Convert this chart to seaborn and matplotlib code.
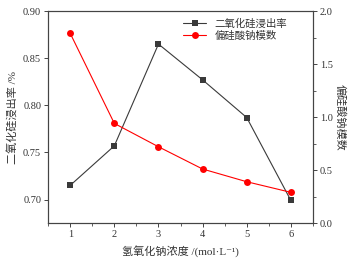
import matplotlib
matplotlib.use("Agg")
import matplotlib.pyplot as plt
import seaborn as sns
import pandas as pd
from matplotlib.ticker import MultipleLocator

naoh_conc = [1, 2, 3, 4, 5, 6]
sio2_leach_rate = [0.715, 0.757, 0.865, 0.827, 0.787, 0.699]
silicate_modulus = [1.79, 0.94, 0.72, 0.51, 0.39, 0.29]

sns.set_style("ticks")
plt.rcParams['font.family'] = ['Liberation Serif', 'Noto Sans CJK SC', 'DejaVu Sans']

df = pd.DataFrame({'conc': naoh_conc, 'rate': sio2_leach_rate, 'modulus': silicate_modulus})

text_c = '#333333'
fig = plt.figure(figsize=(3.54, 2.64), dpi=100)
ax = fig.add_axes([0.136, 0.155, 0.748, 0.803])
ax2 = ax.twinx()

sns.lineplot(data=df, x='conc', y='rate', ax=ax, color='#3a3a3a', marker='s',
             markersize=4.5, markeredgewidth=0, linewidth=0.8, label='二氧化硅浸出率', legend=False)
sns.lineplot(data=df, x='conc', y='modulus', ax=ax2, color='#ff0000', marker='o',
             markersize=5, markeredgewidth=0, linewidth=0.8, label='偏硅酸钠模数', legend=False)

ax.set_xlim(0.5, 6.5)
ax.set_ylim(0.675, 0.90)
ax2.set_ylim(0, 2.0)
ax.set_xticks(naoh_conc)
ax.xaxis.set_minor_locator(MultipleLocator(0.5))
ax.set_yticks([0.70, 0.75, 0.80, 0.85, 0.90])
ax.set_yticklabels(['0.70', '0.75', '0.80', '0.85', '0.90'])
ax2.set_yticks([0, 0.5, 1.0, 1.5, 2.0])
ax2.set_yticklabels(['0.0', '0.5', '1.0', '1.5', '2.0'])
ax2.yaxis.set_minor_locator(MultipleLocator(0.25))

for a in (ax, ax2):
    for s in a.spines.values():
        s.set_color('#444444')
        s.set_linewidth(0.8)
    a.tick_params(which='major', length=3, width=0.7, color='#444444', labelsize=7.5,
                  labelcolor=text_c, pad=2)
    a.tick_params(which='minor', length=2, width=0.6, color='#444444')

ax.set_xlabel('氢氧化钠浓度 /(mol·L⁻¹)', fontsize=8, color=text_c, labelpad=4)
ax.set_ylabel('二氧化硅浸出率 /%', fontsize=8, color=text_c, labelpad=4)
ax2.set_ylabel('偏硅酸钠模数', fontsize=8, color=text_c, rotation=270, labelpad=9,
               family=['Noto Sans CJK SC'])

h1, l1 = ax.get_legend_handles_labels()
h2, l2 = ax2.get_legend_handles_labels()
ax2.legend(h1 + h2, l1 + l2, loc='upper right', bbox_to_anchor=(0.93, 1.0), frameon=False,
           fontsize=7.5, handlelength=2.2, labelspacing=0.2, borderaxespad=0.3,
           labelcolor=text_c)

fig.savefig('out.png', dpi=100)
